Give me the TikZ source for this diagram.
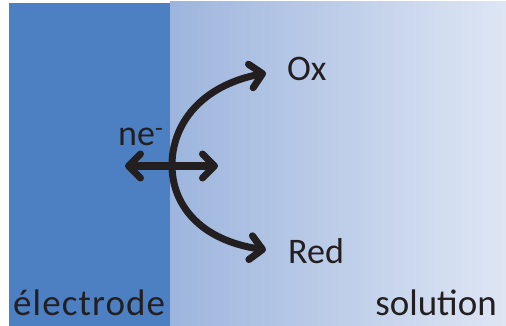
\documentclass[tikz,border=0pt]{standalone}
\usepackage{fontspec}
\setmainfont{Carlito}
\usetikzlibrary{arrows.meta}
\definecolor{electrodeblue}{RGB}{76,128,194}
\definecolor{solleft}{RGB}{157,181,221}
\definecolor{solright}{RGB}{222,230,244}
\definecolor{ink}{RGB}{35,31,32}
\tikzset{
  lbl/.style={inner sep=0pt, text=ink, font=\fontsize{36}{40}\selectfont},
  wide/.style={font=\fontsize{37}{40}\selectfont\addfontfeature{LetterSpace=3}},
  arr/.style={draw=ink, line width=7pt, line cap=round, line join=round,
    {Straight Barb[length=12pt,width=24pt,line cap=round,line join=round]}-{Straight Barb[length=12pt,width=24pt,line cap=round,line join=round]}}
}
\begin{document}
\begin{tikzpicture}[x=1pt,y=-1pt]
\useasboundingbox (0,0) rectangle (506,326);
\fill[white] (0,0) rectangle (506,326);
\shade[left color=solleft, right color=solright] (170,2) rectangle (506,326);
\fill[electrodeblue] (9,3) rectangle (170,326);
% labels
\node[lbl, anchor=base west] (ox) at (287,81) {Ox};
\node[lbl, anchor=base west] (red) at (288,263) {Red};
\node[lbl, anchor=base west] (ne) at (118,146) {ne\textsuperscript{-}};
\node[lbl, wide, anchor=base west] (el) at (13,315) {électrode};
\node[lbl, font=\fontsize{37}{40}\selectfont, anchor=base east] (sol) at (497,315) {solution};
% arrow ends
\coordinate (oxend) at (266,73);
\coordinate (redend) at (266,250);
\coordinate (mid) at (172,165);
\coordinate (eleft) at (125,166);
\coordinate (eright) at (218,166);
\draw[arr] (oxend) .. controls (200,86) and (172,125) .. (mid)
  .. controls (172,205) and (200,240) .. (redend);
\draw[arr] (eleft) -- (eright);
\end{tikzpicture}
\end{document}
